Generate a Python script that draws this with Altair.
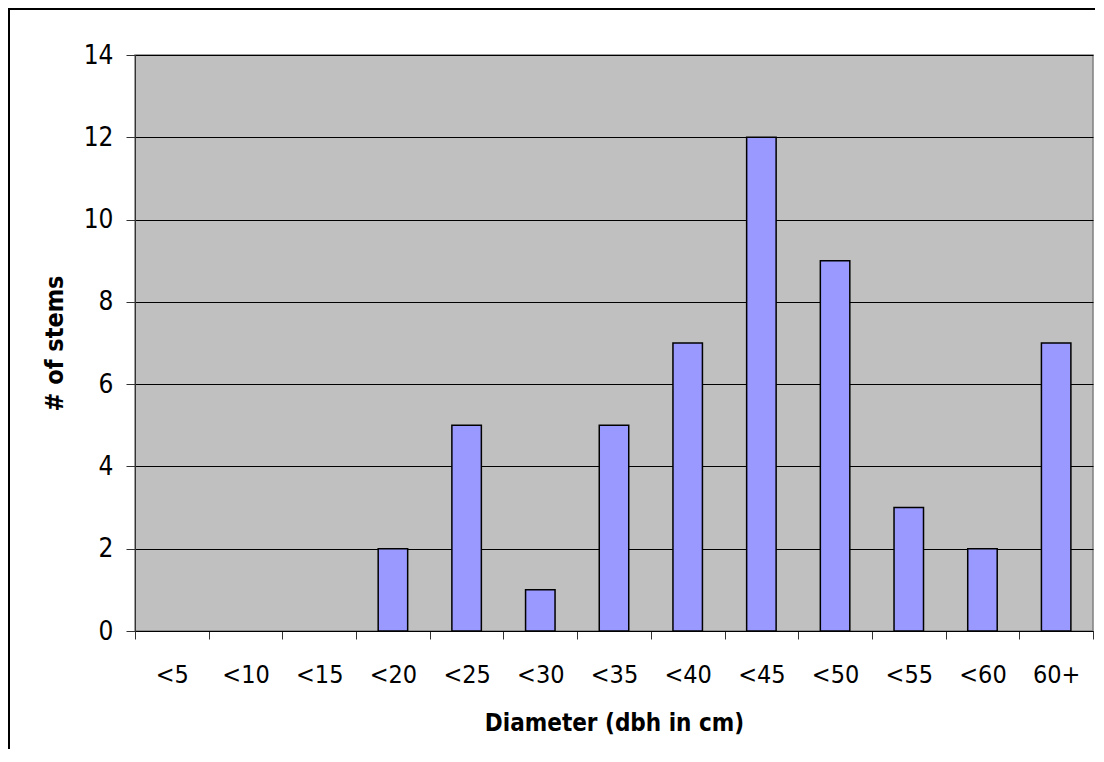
import altair as alt
import pandas as pd

categories = ["<5", "<10", "<15", "<20", "<25", "<30", "<35", "<40", "<45", "<50", "<55", "<60", "60+"]
stems = [0, 0, 0, 2, 5, 1, 5, 7, 12, 9, 3, 2, 7]
y_ticks = [0, 2, 4, 6, 8, 10, 12, 14]

df = pd.DataFrame({"diameter": categories, "stems": stems})

FONT = "DejaVu Sans Condensed, sans-serif"

frame = alt.Chart(df).mark_rect(
    fill="white", fillOpacity=0, stroke="black", strokeWidth=2
).encode(
    x=alt.value(-126), x2=alt.value(1100),
    y=alt.value(-46), y2=alt.value(900)
)

bars = alt.Chart(df).transform_filter(
    alt.datum.stems > 0
).mark_bar(
    color="#9999FF", stroke="black", strokeWidth=1.5,
    width=alt.RelativeBandSize(0.4)
).encode(
    x=alt.X("diameter:N", sort=categories,
            scale=alt.Scale(domain=categories, paddingInner=0, paddingOuter=0),
            axis=alt.Axis(
                title="Diameter (dbh in cm)", labelAngle=0, tickBand="extent",
                tickSize=8, tickColor="#333333", domainColor="black",
                labelFont=FONT, labelFontSize=25, labelColor="black", labelPadding=23,
                titleFont=FONT, titleFontSize=24, titleFontWeight="bold", titleColor="black",
                titleBaseline="alphabetic", titleY=99, titleX=479,
            )),
    y=alt.Y("stems:Q",
            scale=alt.Scale(domain=[0, 14], nice=False),
            axis=alt.Axis(
                title="# of stems", values=y_ticks, tickSize=9, tickColor="#333333",
                domainColor="#333333", grid=True, gridColor="black", gridWidth=1,
                labelFont=FONT, labelFontSize=26, labelColor="black", labelPadding=13,
                titleFont=FONT, titleFontSize=25, titleFontWeight="bold", titleColor="black",
                titleAngle=270, titleAlign="center", titleBaseline="alphabetic",
                titleX=-73, titleY=288,
            )),
)

chart = alt.layer(frame, bars).properties(
    width=958, height=576,
    padding={"left": 127, "top": 47, "right": 2, "bottom": 118},
    autosize=alt.AutoSizeParams(type="none"),
    background="white",
).configure_view(
    fill="#C0C0C0", stroke="#808080", strokeWidth=1.5
)

chart.save("out.html", embed_options={"renderer": "svg", "actions": False})
